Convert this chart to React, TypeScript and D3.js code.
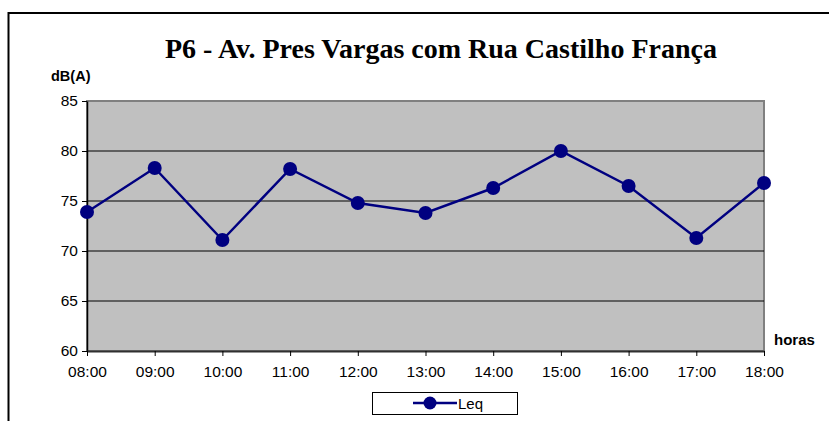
import React, { useEffect, useRef } from 'react';
import * as d3 from 'd3';

const hours = ['08:00', '09:00', '10:00', '11:00', '12:00', '13:00', '14:00', '15:00', '16:00', '17:00', '18:00'];
const leq = [73.9, 78.3, 71.1, 78.2, 74.8, 73.8, 76.3, 80.0, 76.5, 71.3, 76.8];
const yTicks = [60, 65, 70, 75, 80, 85];

const title = 'P6 - Av. Pres Vargas com Rua Castilho França';
const seriesName = 'Leq';
const navy = '#000080';

function App() {
  const ref = useRef<SVGSVGElement>(null);

  useEffect(() => {
    const svg = d3.select(ref.current);
    svg.selectAll('*').remove();

    const W = 829, H = 421;
    const left = 87, right = 764, top = 101, bottom = 351;

    // outer frame (runs off the right/bottom of the picture)
    svg.append('rect')
      .attr('x', 8.5).attr('y', 13)
      .attr('width', W + 20).attr('height', H + 20)
      .attr('fill', '#fff').attr('stroke', '#000').attr('stroke-width', 2);

    const x = d3.scalePoint().domain(hours).range([left, right]);
    const y = d3.scaleLinear().domain([60, 85]).range([bottom, top]);

    // plot area
    svg.append('rect')
      .attr('x', left).attr('y', top)
      .attr('width', right - left).attr('height', bottom - top)
      .attr('fill', '#c0c0c0').attr('stroke', '#808080').attr('stroke-width', 2);

    // gridlines
    svg.append('g').selectAll('line')
      .data(yTicks.filter(t => t > 60 && t < 85))
      .enter().append('line')
      .attr('x1', left).attr('x2', right)
      .attr('y1', d => y(d)).attr('y2', d => y(d))
      .attr('stroke', '#000').attr('stroke-width', 1);

    // y axis
    const yAxis = svg.append('g')
      .attr('transform', `translate(${left},0)`)
      .call(d3.axisLeft(y).tickValues(yTicks).tickSize(5).tickSizeOuter(0).tickPadding(4));
    yAxis.select('.domain').attr('stroke', '#000').attr('stroke-width', 1.5);
    yAxis.selectAll('.tick line').attr('stroke', '#000');
    yAxis.selectAll('text')
      .attr('font-family', '"Liberation Sans", Arial, sans-serif')
      .attr('font-size', 15.5).attr('fill', '#000');

    // x axis
    const xAxis = svg.append('g')
      .attr('transform', `translate(0,${bottom})`)
      .call(d3.axisBottom(x).tickSize(5).tickSizeOuter(0).tickPadding(10));
    xAxis.select('.domain').attr('stroke', '#303030').attr('stroke-width', 2);
    xAxis.selectAll('.tick line').attr('stroke', '#000');
    xAxis.selectAll('text')
      .attr('font-family', '"Liberation Sans", Arial, sans-serif')
      .attr('font-size', 15.5).attr('fill', '#000');

    // series line
    const line = d3.line<number>()
      .x((_, i) => x(hours[i]) as number)
      .y(d => y(d));
    svg.append('path')
      .datum(leq)
      .attr('d', line)
      .attr('fill', 'none').attr('stroke', navy).attr('stroke-width', 2.5);

    svg.append('g').selectAll('circle')
      .data(leq)
      .enter().append('circle')
      .attr('cx', (_, i) => x(hours[i]) as number)
      .attr('cy', d => y(d))
      .attr('r', 7)
      .attr('fill', navy);

    // title and axis labels
    svg.append('text')
      .attr('x', 441).attr('y', 58)
      .attr('text-anchor', 'middle')
      .attr('font-family', '"Liberation Serif", "Times New Roman", serif')
      .attr('font-weight', 'bold').attr('font-size', 28)
      .text(title);

    svg.append('text')
      .attr('x', 51).attr('y', 81)
      .attr('font-family', '"Liberation Sans", Arial, sans-serif')
      .attr('font-weight', 'bold').attr('font-size', 14.5)
      .text('dB(A)');

    svg.append('text')
      .attr('x', 774).attr('y', 345)
      .attr('font-family', '"Liberation Sans", Arial, sans-serif')
      .attr('font-weight', 'bold').attr('font-size', 15)
      .text('horas');

    // legend
    const lg = svg.append('g');
    lg.append('rect')
      .attr('x', 372.5).attr('y', 392.5).attr('width', 145).attr('height', 22)
      .attr('fill', '#fff').attr('stroke', '#000').attr('stroke-width', 1);
    lg.append('line')
      .attr('x1', 413).attr('x2', 457).attr('y1', 403).attr('y2', 403)
      .attr('stroke', navy).attr('stroke-width', 2.5);
    lg.append('circle')
      .attr('cx', 430).attr('cy', 403).attr('r', 6.5).attr('fill', navy);
    lg.append('text')
      .attr('x', 458).attr('y', 409)
      .attr('font-family', '"Liberation Sans", Arial, sans-serif')
      .attr('font-size', 15)
      .text(seriesName);
  }, []);

  return (
    <svg ref={ref} width={829} height={421}
      style={{ position: 'absolute', left: 0, top: 0, display: 'block', background: '#fff' }} />
  );
}

export default App;
